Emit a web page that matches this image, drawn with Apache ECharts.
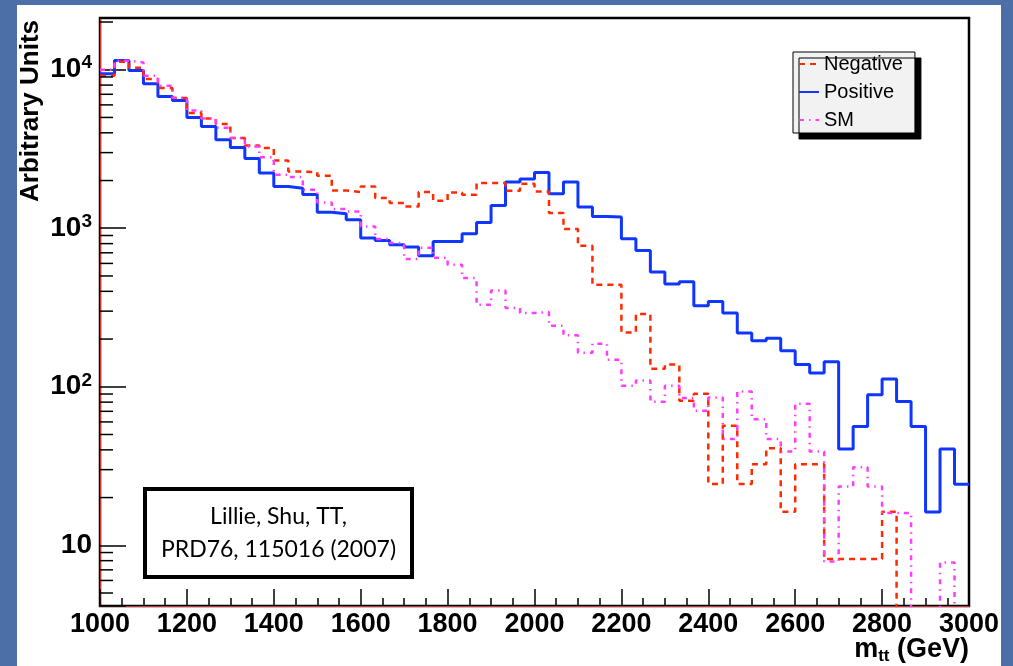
<!DOCTYPE html>
<html>
<head>
<meta charset="utf-8">
<title>m_tt</title>
<script src="https://cdn.jsdelivr.net/npm/echarts@6/dist/echarts.min.js"></script>
<style>
html,body{margin:0;padding:0;background:#4b6fa6;overflow:hidden;}
#main{position:absolute;left:17px;top:5px;width:984px;height:661px;background:#fff;}
</style>
</head>
<body>
<div id="main"></div>
<script>
// histogram: 60 bins between 1000 and 3000 GeV
var xMin=1000, xMax=3000, nBins=60;
// bins under the axis floor are given 1
var negative=[9170,11230,10300,8740,7660,6630,5330,4930,4540,3710,
  3330,3210,2680,2280,2255,2144,1732,1692,1835,1550,
  1442,1372,1692,1491,1680,1627,1929,1929,1724,1909,
  1707,1247,989,775,440,440,220,288,130,138,
  81.6,90.3,24.4,56.8,24.4,32.5,41,16.3,32.5,32.5,
  8.2,8.2,8.2,8.2,16.3,1,1,1,1,1];
var positive=[9440,11450,9900,8160,6790,6400,5000,4390,3620,3230,
  2750,2230,1835,1790,1630,1260,1234,1130,868,838,
  787,761,671,826,826,923,1088,1393,1956,2044,
  2249,1651,1956,1361,1187,1177,859,724,529,445,
  460,324,345,292,218,195,202,169,138,122,
  144,40.5,56.2,89,112,80.8,56.2,16.2,40.5,24.3];
var sm=[10000,11400,11120,9170,7930,6660,5540,4930,4310,3710,
  3280,2800,2175,2104,1750,1455,1322,1276,1027,855,
  807,639,753,652,588,485,329,405,314,292,
  296,243,211,164,187,148,101.5,109.6,80.4,101.5,
  84.9,70.6,85.6,46.8,93.4,62.5,46.8,39.1,78.1,39.1,
  7.9,23.5,31.1,23.5,16,16,1,1,7.8,1];
// y axis: range, minor ticks, labels
var yMin=4.14, yMax=21200;
var yMinorTicks=[5,6,7,8,9,20,30,40,50,60,70,80,90,200,300,400,500,600,700,800,900,
  2000,3000,4000,5000,6000,7000,8000,9000,20000];
var yLabels={1:'10',2:'10{s|2}',3:'10{s|3}',4:'10{s|4}'};

// bin edges -> points for a step line
function hist(vals){
  var w=(xMax-xMin)/nBins, out=[];
  for(var i=0;i<=nBins;i++){
    out.push([xMin+i*w, vals[Math.min(i,nBins-1)]]);
  }
  return out;
}

var font='"Liberation Sans", Helvetica, Arial, sans-serif';
var chart=echarts.init(document.getElementById('main'));
chart.setOption({
  animation:false,
  grid:{left:83,right:32,top:13,bottom:60,outerBoundsMode:'none',containLabel:false,
    show:true,borderColor:'#000',borderWidth:2.5},
  legend:{
    data:['Negative','Positive','SM'],
    orient:'vertical',left:776,top:47,
    itemWidth:20,itemHeight:10,itemGap:8,
    padding:[2,12,3,5],
    itemStyle:{opacity:0},
    backgroundColor:'#f2f2f2',borderColor:'#000',borderWidth:1,
    shadowColor:'#000',shadowBlur:0,shadowOffsetX:6,shadowOffsetY:6,
    textStyle:{fontFamily:font,fontSize:20,color:'#000'}
  },
  xAxis:{
    type:'value',min:xMin,max:xMax,interval:200,
    name:'{b|m}{t|tt}{b| (GeV)}',nameLocation:'end',nameGap:0,nameMoveOverlap:false,
    nameTextStyle:{align:'right',verticalAlign:'top',padding:[29,0,0,0],
      rich:{b:{fontFamily:font,fontSize:27,fontWeight:'bold',color:'#000'},
            t:{fontFamily:font,fontSize:17,fontWeight:'bold',color:'#000',padding:[13,0,0,0]}}},
    axisLine:{show:true,lineStyle:{color:'#c83232',width:1}},
    axisTick:{inside:true,length:17,lineStyle:{color:'#000',width:1.5}},
    minorTick:{show:true,splitNumber:4,length:8,lineStyle:{color:'#000',width:1.5}},
    splitLine:{show:false},
    axisLabel:{margin:5,fontFamily:font,fontSize:27,fontWeight:'bold',color:'#000',
      formatter:function(v){return String(v);}}
  },
  yAxis:{
    type:'log',logBase:10,min:yMin,max:yMax,
    axisLine:{show:true,lineStyle:{color:'#c83232',width:1}},
    axisTick:{inside:true,length:26,lineStyle:{color:'#000',width:1.5}},
    splitLine:{show:false},
    axisLabel:{
      margin:8,fontFamily:font,fontSize:28,fontWeight:'bold',color:'#000',
      formatter:function(v){
        var k=Math.round(Math.log10(v));
        if(Math.abs(Math.log10(v)-k)>1e-6) return '';
        return yLabels[k]||'';
      },
      rich:{s:{fontFamily:font,fontSize:19,fontWeight:'bold',color:'#000',padding:[0,0,13,0]}}
    }
  },
  graphic:[
    {type:'text',x:14,y:106,rotation:Math.PI/2,
      style:{text:'Arbitrary Units',font:'bold 26px '+font,fill:'#000',align:'center',verticalAlign:'middle'}},
    {type:'rect',shape:{x:128,y:484,width:267,height:88},z:10,
      style:{fill:'#fff',stroke:'#000',lineWidth:4}},
    {type:'text',x:261.5,y:528,z:11,
      style:{text:'Lillie, Shu, TT,\nPRD76, 115016 (2007)',font:'23px Lato, sans-serif',lineHeight:33,
        fill:'#000',align:'center',verticalAlign:'middle'}}
  ],
  series:[
    {name:'Negative',type:'line',step:'end',data:hist(negative),symbol:'none',clip:true,z:3,
      itemStyle:{color:'#ff2a00'},lineStyle:{color:'#ff2a00',width:2.5,type:[6,5]}},
    {name:'Positive',type:'line',step:'end',data:hist(positive),symbol:'none',clip:true,z:2,
      itemStyle:{color:'#0f36ff'},lineStyle:{color:'#0f36ff',width:3}},
    {name:'SM',type:'line',step:'end',data:hist(sm),symbol:'none',clip:true,z:4,
      itemStyle:{color:'#ff3dff'},lineStyle:{color:'#ff3dff',width:2.5,type:[5,5,1.5,5]}},
    // minor ticks on the log axis
    {type:'custom',silent:true,z:5,
      data:yMinorTicks.map(function(v){return [xMin,v];}),
      renderItem:function(params,api){
        var p=api.coord([api.value(0),api.value(1)]);
        return {type:'line',shape:{x1:p[0],y1:p[1],x2:p[0]+13,y2:p[1]},
          style:{stroke:'#000',lineWidth:1.5}};
      }}
  ]
});
</script>
</body>
</html>
